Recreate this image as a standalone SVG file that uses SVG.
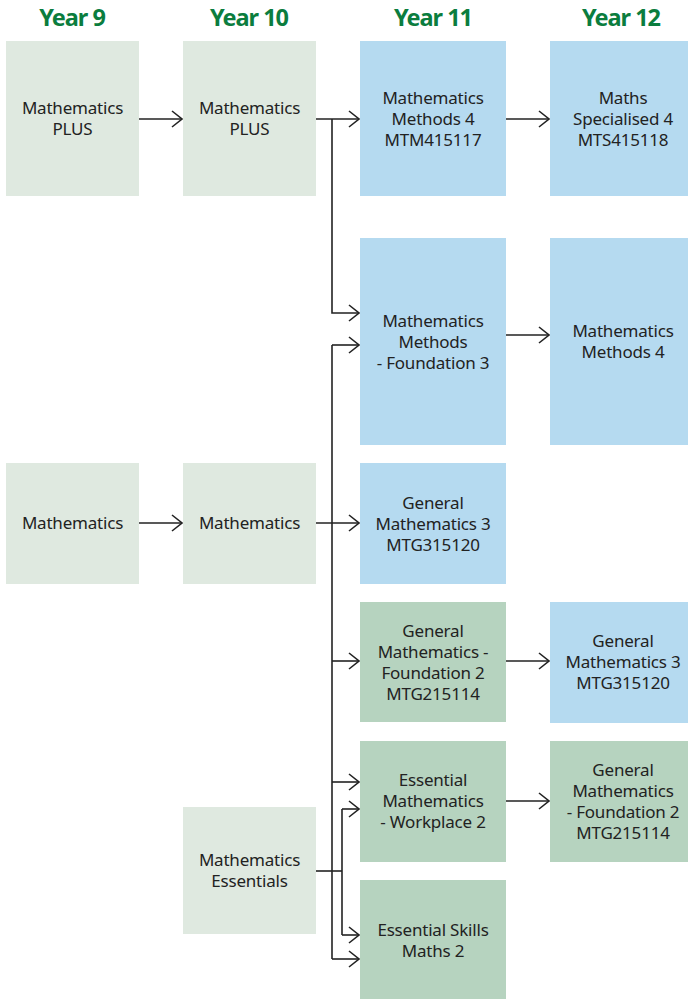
<svg xmlns="http://www.w3.org/2000/svg" width="688" height="999" viewBox="0 0 688 999">
<style>
.hd{font-family:"Noto Sans","Open Sans",sans-serif;font-weight:bold;font-size:23.5px;fill:#0b7d3e;text-anchor:middle;letter-spacing:-1px}
.t{font-family:"Noto Sans","Open Sans",sans-serif;font-size:17px;fill:#222;text-anchor:middle;letter-spacing:-0.2px}
.lg{fill:#dfe9e0}
.bl{fill:#b5daf0}
.mg{fill:#b6d3bf}
.c{fill:none;stroke:#222;stroke-width:1.6}
</style>
<defs>
<marker id="ah" viewBox="0 0 12 18" markerWidth="12" markerHeight="18" refX="11" refY="9" orient="auto" markerUnits="userSpaceOnUse">
<path d="M1,1 L11,9 L1,17" fill="none" stroke="#222" stroke-width="1.6"/>
</marker>
</defs>
<g id="headers">
<text class="hd" x="72" y="26">Year 9</text>
<text class="hd" x="249" y="26">Year 10</text>
<text class="hd" x="433" y="26">Year 11</text>
<text class="hd" x="621" y="26">Year 12</text>
</g>
<g id="y9-plus"><rect class="lg" x="6" y="41" width="133" height="155"/><text class="t" x="72.5" y="114">Mathematics</text><text class="t" x="72.5" y="135">PLUS</text></g>
<g id="y9-math"><rect class="lg" x="6" y="463" width="133" height="121"/><text class="t" x="72.5" y="529">Mathematics</text></g>
<g id="y10-plus"><rect class="lg" x="183" y="41" width="133" height="155"/><text class="t" x="249.5" y="114">Mathematics</text><text class="t" x="249.5" y="135">PLUS</text></g>
<g id="y10-math"><rect class="lg" x="183" y="463" width="133" height="121"/><text class="t" x="249.5" y="529">Mathematics</text></g>
<g id="y10-ess"><rect class="lg" x="183" y="807" width="133" height="127"/><text class="t" x="249.5" y="866">Mathematics</text><text class="t" x="249.5" y="887">Essentials</text></g>
<g id="y11-mm4"><rect class="bl" x="360" y="41" width="146" height="155"/><text class="t" x="433" y="104">Mathematics</text><text class="t" x="433" y="125">Methods 4</text><text class="t" x="433" y="146">MTM415117</text></g>
<g id="y11-mmf"><rect class="bl" x="360" y="238" width="146" height="207"/><text class="t" x="433" y="327">Mathematics</text><text class="t" x="433" y="348">Methods</text><text class="t" x="433" y="369">- Foundation 3</text></g>
<g id="y11-gm3"><rect class="bl" x="360" y="463" width="146" height="121"/><text class="t" x="433" y="509">General</text><text class="t" x="433" y="530">Mathematics 3</text><text class="t" x="433" y="551">MTG315120</text></g>
<g id="y11-gmf"><rect class="mg" x="360" y="602" width="146" height="120"/><text class="t" x="433" y="637">General</text><text class="t" x="433" y="658">Mathematics -</text><text class="t" x="433" y="679">Foundation 2</text><text class="t" x="433" y="700">MTG215114</text></g>
<g id="y11-emw"><rect class="mg" x="360" y="741" width="146" height="121"/><text class="t" x="433" y="786">Essential</text><text class="t" x="433" y="807">Mathematics</text><text class="t" x="433" y="828">- Workplace 2</text></g>
<g id="y11-esm"><rect class="mg" x="360" y="880" width="146" height="119"/><text class="t" x="433" y="936">Essential Skills</text><text class="t" x="433" y="957">Maths 2</text></g>
<g id="y12-ms4"><rect class="bl" x="550" y="41" width="138" height="155"/><text class="t" x="623" y="104">Maths</text><text class="t" x="623" y="125">Specialised 4</text><text class="t" x="623" y="146">MTS415118</text></g>
<g id="y12-mm4"><rect class="bl" x="550" y="238" width="138" height="207"/><text class="t" x="623" y="337">Mathematics</text><text class="t" x="623" y="358">Methods 4</text></g>
<g id="y12-gm3"><rect class="bl" x="550" y="602" width="138" height="121"/><text class="t" x="623" y="647">General</text><text class="t" x="623" y="668">Mathematics 3</text><text class="t" x="623" y="689">MTG315120</text></g>
<g id="y12-gmf"><rect class="mg" x="550" y="741" width="138" height="121"/><text class="t" x="623" y="776">General</text><text class="t" x="623" y="797">Mathematics</text><text class="t" x="623" y="818">- Foundation 2</text><text class="t" x="623" y="839">MTG215114</text></g>
<g id="connectors">
<path class="c" d="M139,119 H182" marker-end="url(#ah)"/>
<path class="c" d="M139,523 H182" marker-end="url(#ah)"/>
<path class="c" d="M316,119 H359" marker-end="url(#ah)"/>
<path class="c" d="M332,119 V313 H359" marker-end="url(#ah)"/>
<path class="c" d="M316,523 H359" marker-end="url(#ah)"/>
<path class="c" d="M332,345 V959"/>
<path class="c" d="M332,345 H359" marker-end="url(#ah)"/>
<path class="c" d="M332,661 H359" marker-end="url(#ah)"/>
<path class="c" d="M332,782 H359" marker-end="url(#ah)"/>
<path class="c" d="M332,959 H359" marker-end="url(#ah)"/>
<path class="c" d="M316,871 H342"/>
<path class="c" d="M342,809 V935"/>
<path class="c" d="M342,809 H359" marker-end="url(#ah)"/>
<path class="c" d="M342,935 H359" marker-end="url(#ah)"/>
<path class="c" d="M506,119 H549" marker-end="url(#ah)"/>
<path class="c" d="M506,335 H549" marker-end="url(#ah)"/>
<path class="c" d="M506,661 H549" marker-end="url(#ah)"/>
<path class="c" d="M506,801 H549" marker-end="url(#ah)"/>
</g>
</svg>
